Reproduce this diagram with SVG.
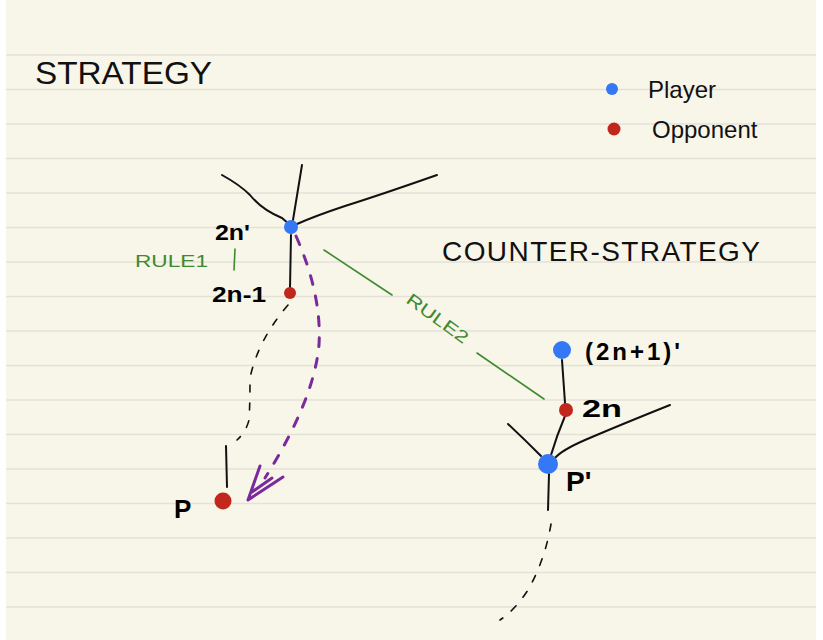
<svg xmlns="http://www.w3.org/2000/svg" width="823" height="640" viewBox="0 0 823 640">
<style>
.rule{stroke:#e3e1d8;stroke-width:1.6}
.ink{fill:none;stroke:#111;stroke-width:2;stroke-linecap:round;stroke-linejoin:round}
.inkd{fill:none;stroke:#111;stroke-width:1.6;stroke-linecap:round;stroke-dasharray:7 11}
.grn{fill:none;stroke:#3f8a2f;stroke-width:1.6;stroke-linecap:round}
.pur{fill:none;stroke:#7b2a9c;stroke-width:3;stroke-linecap:round;stroke-linejoin:round}
.purd{fill:none;stroke:#7b2a9c;stroke-width:3;stroke-linecap:round;stroke-dasharray:9 12}
.hand{font-family:"Liberation Sans",Arial,sans-serif;fill:#111}
.lbl{font-family:"Liberation Sans",Arial,sans-serif;font-weight:bold;fill:#000}
.gt{font-family:"Liberation Sans",Arial,sans-serif;fill:#3f8a2f}
.pl{fill:#3478f6}
.op{fill:#c1271d}
</style>
<rect width="823" height="640" fill="#ffffff"/>
<rect x="6" y="0" width="810" height="640" fill="#f8f5e9"/>
<g id="paper-lines">
<line class="rule" x1="6" y1="55" x2="816" y2="55"/>
<line class="rule" x1="6" y1="89.5" x2="816" y2="89.5"/>
<line class="rule" x1="6" y1="124" x2="816" y2="124"/>
<line class="rule" x1="6" y1="158.5" x2="816" y2="158.5"/>
<line class="rule" x1="6" y1="193" x2="816" y2="193"/>
<line class="rule" x1="6" y1="227.5" x2="816" y2="227.5"/>
<line class="rule" x1="6" y1="262" x2="816" y2="262"/>
<line class="rule" x1="6" y1="296.5" x2="816" y2="296.5"/>
<line class="rule" x1="6" y1="331" x2="816" y2="331"/>
<line class="rule" x1="6" y1="365.5" x2="816" y2="365.5"/>
<line class="rule" x1="6" y1="400" x2="816" y2="400"/>
<line class="rule" x1="6" y1="434.5" x2="816" y2="434.5"/>
<line class="rule" x1="6" y1="469" x2="816" y2="469"/>
<line class="rule" x1="6" y1="503.5" x2="816" y2="503.5"/>
<line class="rule" x1="6" y1="538" x2="816" y2="538"/>
<line class="rule" x1="6" y1="572.5" x2="816" y2="572.5"/>
<line class="rule" x1="6" y1="607" x2="816" y2="607"/>
</g>
<g id="titles">
<text class="hand" x="35" y="84" font-size="32" textLength="177" lengthAdjust="spacingAndGlyphs">STRATEGY</text>
<text class="hand" x="442" y="261" font-size="28" textLength="318" lengthAdjust="spacing">COUNTER-STRATEGY</text>
</g>
<g id="legend">
<circle class="pl" cx="612" cy="89" r="6"/>
<text class="hand" x="648" y="98" font-size="24">Player</text>
<circle class="op" cx="614" cy="129" r="6.5"/>
<text class="hand" x="652" y="138" font-size="24">Opponent</text>
</g>
<g id="connectors">
<path class="ink" d="M222 175 Q240 185 250 195 Q262 210 282 218 L289 224"/>
<path class="ink" d="M302 165 Q298 190 293 220"/>
<path class="ink" d="M437 175 Q380 195 345 206 Q315 216 297 224"/>
<path class="ink" d="M291 235 L290 288"/>
<path class="inkd" d="M288 305 Q258 340 250 378 Q250 405 249 420 Q246 432 237 440"/>
<path class="ink" d="M226 446 L227 487"/>
<path class="purd" d="M296 236 Q322 295 319 345 Q314 400 265 478"/>
<path class="pur" d="M248 500 L283 477 M248 500 L260 466 M252 492 L272 478"/>
<line class="grn" x1="235" y1="249" x2="234" y2="270"/>
<line class="grn" x1="324" y1="250" x2="392" y2="295"/>
<line class="grn" x1="477" y1="353" x2="544" y2="399"/>
<path class="ink" d="M562 360 L565 403"/>
<path class="ink" d="M565 416 Q557 435 551 455"/>
<path class="ink" d="M508 424 Q525 440 541 456"/>
<path class="ink" d="M670 405 Q620 425 585 440 Q562 450 555 458"/>
<path class="ink" d="M549 474 L548 510"/>
<path class="inkd" d="M551 524 Q545 560 528 590 Q515 610 500 620"/>
</g>
<g id="rules">
<text class="gt" x="135" y="267" font-size="17" textLength="73" lengthAdjust="spacingAndGlyphs">RULE1</text>
<text class="gt" x="405" y="302" font-size="17" transform="rotate(36 405 302)" textLength="72" lengthAdjust="spacingAndGlyphs">RULE2</text>
</g>
<g id="node-2n-prime">
<circle class="pl" cx="291" cy="227" r="7"/>
<text class="lbl" x="215" y="240" font-size="22" textLength="35" lengthAdjust="spacingAndGlyphs">2n'</text>
</g>
<g id="node-2n-1">
<circle class="op" cx="290" cy="293" r="6"/>
<text class="lbl" x="212" y="302" font-size="22" textLength="54" lengthAdjust="spacingAndGlyphs">2n-1</text>
</g>
<g id="node-p">
<circle class="op" cx="223" cy="501" r="8.5"/>
<text class="lbl" x="174" y="518" font-size="26">P</text>
</g>
<g id="node-2n1-prime">
<circle class="pl" cx="562" cy="350" r="9"/>
<text class="lbl" x="585" y="360" font-size="24" textLength="95" lengthAdjust="spacing">(2n+1)'</text>
</g>
<g id="node-2n">
<circle class="op" cx="566" cy="410" r="7"/>
<text class="lbl" x="582" y="417" font-size="24" textLength="40" lengthAdjust="spacingAndGlyphs">2n</text>
</g>
<g id="node-p-prime">
<circle class="pl" cx="548" cy="464" r="10"/>
<text class="lbl" x="566" y="491" font-size="28">P'</text>
</g>
</svg>
